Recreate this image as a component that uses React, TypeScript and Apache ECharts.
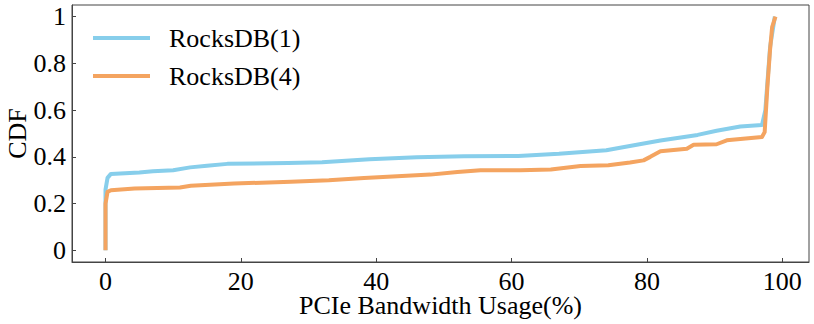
import React, { useEffect, useRef } from "react";
import * as echarts from "echarts";

const seriesNames = ["RocksDB(1)", "RocksDB(4)"];
const colors = ["#87CEEB", "#F4A460"];

// RocksDB(1): bandwidth usage (%) and CDF
const rocks1X = [0, 0, 0.3, 0.8, 5, 7, 10, 12.5, 15, 18, 27, 32, 39, 46, 53, 61, 67, 74, 78.5, 82, 87.5, 90.3, 93.8, 97, 97.5, 98.2, 98.9];
const rocks1Y = [0, 0.26, 0.31, 0.327, 0.333, 0.338, 0.343, 0.355, 0.362, 0.37, 0.374, 0.377, 0.39, 0.398, 0.403, 0.404, 0.413, 0.428, 0.452, 0.47, 0.494, 0.512, 0.53, 0.536, 0.6, 0.87, 1.0];

// RocksDB(4)
const rocks4X = [0, 0, 0.3, 0.8, 4.3, 11, 12.6, 19, 27.4, 33, 38.2, 48, 52, 55.4, 61.3, 65.8, 70.2, 74.3, 77.5, 79.5, 80.5, 82, 85.9, 86.9, 90.3, 91.8, 97, 97.4, 97.8, 98.2, 98.5, 99];
const rocks4Y = [0, 0.2, 0.25, 0.257, 0.265, 0.269, 0.276, 0.286, 0.293, 0.3, 0.31, 0.324, 0.335, 0.343, 0.343, 0.346, 0.361, 0.364, 0.376, 0.385, 0.4, 0.424, 0.435, 0.452, 0.454, 0.471, 0.485, 0.506, 0.7, 0.86, 0.955, 1.0];

const xTicks = [0, 20, 40, 60, 80, 100];
const yTicks = [0, 0.2, 0.4, 0.6, 0.8, 1];

const xTitle = "PCIe Bandwidth Usage(%)";
const yTitle = "CDF";

const FONT = "'Liberation Serif', 'Times New Roman', serif";
const FONT_SIZE = 26;
const AXIS_COLOR = "#444";

function pairs(xs: number[], ys: number[]) {
  return xs.map((x, i) => [x, ys[i]]);
}

export default function App() {
  const ref = useRef<HTMLDivElement>(null);
  useEffect(() => {
    if (!ref.current) return;
    const chart = echarts.init(ref.current, undefined, { renderer: "svg" });
    const labelStyle = { color: "#000", fontFamily: FONT, fontSize: FONT_SIZE };
    chart.setOption({
      animation: false,
      backgroundColor: "#fff",
      grid: {
        left: 72,
        right: 5,
        top: 5,
        bottom: 62,
        outerBoundsMode: "none",
        containLabel: false,
        show: true,
        borderColor: AXIS_COLOR,
        borderWidth: 1,
        backgroundColor: "transparent",
      },
      legend: {
        orient: "vertical",
        left: 88,
        top: 20,
        itemWidth: 57,
        itemHeight: 4,
        itemGap: 12,
        icon: "rect",
        data: seriesNames,
        textStyle: {
          color: "#000",
          fontFamily: FONT,
          fontSize: FONT_SIZE,
          lineHeight: 26,
          padding: [0, 0, 0, 14],
        },
      },
      xAxis: {
        type: "value",
        min: -4.95,
        max: 103.95,
        name: xTitle,
        nameLocation: "middle",
        nameGap: 30,
        nameMoveOverlap: false,
        nameTextStyle: { ...labelStyle },
        axisLine: { show: true, onZero: false, lineStyle: { color: AXIS_COLOR, width: 1 } },
        axisTick: { show: true, inside: true, length: 4, customValues: xTicks, lineStyle: { color: AXIS_COLOR } },
        axisLabel: { ...labelStyle, margin: 6, customValues: xTicks },
        splitLine: { show: false },
      },
      yAxis: {
        type: "value",
        min: -0.05,
        max: 1.05,
        name: yTitle,
        nameLocation: "middle",
        nameGap: 42,
        nameMoveOverlap: false,
        nameRotate: 90,
        nameTextStyle: { ...labelStyle },
        axisLine: { show: true, onZero: false, lineStyle: { color: AXIS_COLOR, width: 1 } },
        axisTick: { show: true, inside: true, length: 4, customValues: yTicks, lineStyle: { color: AXIS_COLOR } },
        axisLabel: { ...labelStyle, margin: 6, customValues: yTicks },
        splitLine: { show: false },
      },
      series: [
        {
          name: seriesNames[0],
          type: "line",
          data: pairs(rocks1X, rocks1Y),
          showSymbol: false,
          symbol: "none",
          color: colors[0],
          lineStyle: { width: 4, color: colors[0], join: "round" },
        },
        {
          name: seriesNames[1],
          type: "line",
          data: pairs(rocks4X, rocks4Y),
          showSymbol: false,
          symbol: "none",
          color: colors[1],
          lineStyle: { width: 4, color: colors[1], join: "round" },
        },
      ],
    });
    return () => chart.dispose();
  }, []);
  return (
    <div
      ref={ref}
      style={{ position: "absolute", left: 0, top: 0, width: 814, height: 324 }}
    />
  );
}
